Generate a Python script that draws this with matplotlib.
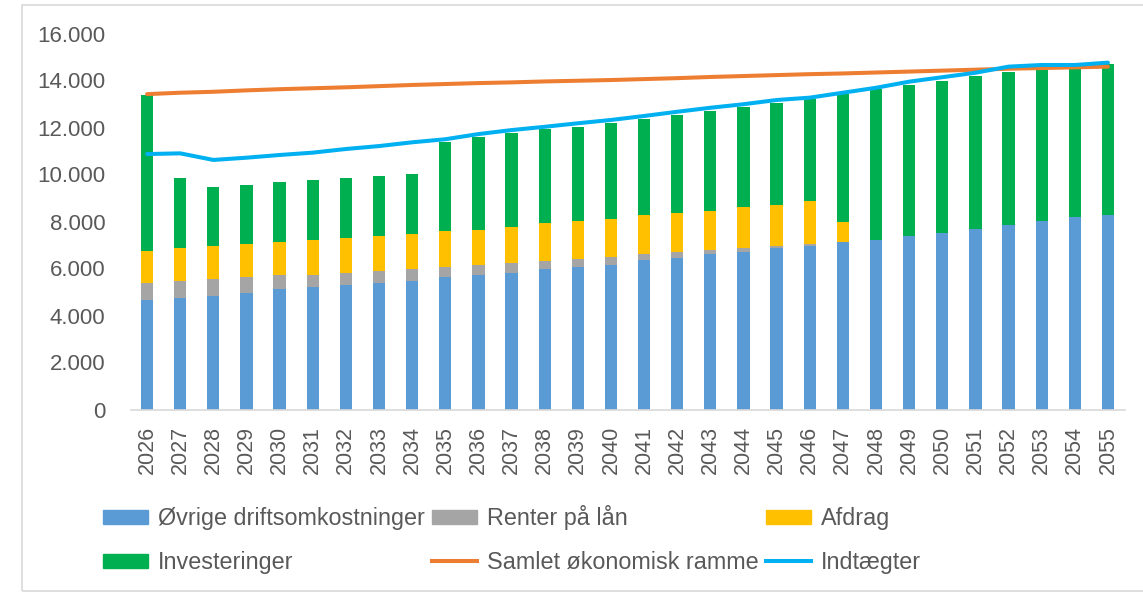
import matplotlib
matplotlib.use("Agg")
import matplotlib.pyplot as plt
import numpy as np
from matplotlib.patches import Patch, Rectangle
from matplotlib.lines import Line2D
from matplotlib.ticker import FuncFormatter

years = list(range(2026, 2056))

drift = [4660, 4760, 4840, 4950, 5110, 5200, 5290, 5380, 5470, 5630,
         5720, 5820, 5990, 6080, 6160, 6350, 6430, 6600, 6690, 6860,
         6970, 7120, 7210, 7380, 7500, 7670, 7840, 8010, 8180, 8280]
renter = [710, 700, 700, 680, 600, 510, 520, 510, 510, 430,
          430, 410, 340, 340, 340, 255, 255, 170, 170, 100,
          70, 0, 0, 0, 0, 0, 0, 0, 0, 0]
afdrag = [1390, 1400, 1420, 1420, 1420, 1500, 1490, 1500, 1500, 1515,
          1500, 1520, 1590, 1590, 1590, 1670, 1670, 1670, 1770, 1745,
          1840, 880, 0, 0, 0, 0, 0, 0, 0, 0]
invest = [6620, 2980, 2520, 2520, 2540, 2540, 2540, 2530, 2540, 3790,
          3930, 4000, 4000, 4030, 4085, 4070, 4170, 4255, 4255, 4330,
          4315, 5430, 6410, 6430, 6490, 6520, 6540, 6470, 6340, 6430]
ramme = [13420, 13480, 13520, 13580, 13630, 13670, 13710, 13760, 13810, 13850,
         13890, 13920, 13960, 13990, 14020, 14060, 14100, 14150, 14190, 14230,
         14270, 14300, 14340, 14380, 14420, 14460, 14500, 14530, 14560, 14590]
indtaegter = [10870, 10900, 10620, 10715, 10830, 10930, 11085, 11210, 11370, 11500,
              11720, 11890, 12030, 12180, 12320, 12490, 12670, 12840, 12990, 13170,
              13270, 13480, 13690, 13950, 14140, 14330, 14590, 14660, 14660, 14760]

labels = ["Øvrige driftsomkostninger", "Renter på lån", "Afdrag",
          "Investeringer", "Samlet økonomisk ramme", "Indtægter"]
yticks = [0, 2000, 4000, 6000, 8000, 10000, 12000, 14000, 16000]

c_blue = "#5B9BD5"
c_gray = "#A5A5A5"
c_yel = "#FFC000"
c_green = "#00B050"
c_orange = "#ED7D31"
c_lblue = "#00B0F0"
txt = "#595959"

W, H = 1143, 597
fig = plt.figure(figsize=(W / 100, H / 100), dpi=100)
fig.patch.set_facecolor("white")

left, right = 130.5 / W, 1124.5 / W
bottom, top = 1 - 409.5 / H, 1 - 33.5 / H
ax = fig.add_axes([left, bottom, right - left, top - bottom])

x = np.arange(len(years))
d = np.array(drift, float)
r = np.array(renter, float)
a = np.array(afdrag, float)
g = np.array(invest, float)
bw = 0.37
ax.bar(x, d, bw, color=c_blue, zorder=2)
ax.bar(x, r, bw, bottom=d, color=c_gray, zorder=2)
ax.bar(x, a, bw, bottom=d + r, color=c_yel, zorder=2)
ax.bar(x, g, bw, bottom=d + r + a, color=c_green, zorder=2)
ax.plot(x, ramme, color=c_orange, lw=2.9, zorder=3, solid_capstyle="round")
ax.plot(x, indtaegter, color=c_lblue, lw=2.9, zorder=4, solid_capstyle="round")

ax.set_xlim(-0.5, len(years) - 0.5)
ax.set_ylim(0, 16000)
ax.set_yticks(yticks)
ax.yaxis.set_major_formatter(FuncFormatter(lambda v, p: f"{int(v):,}".replace(",", ".")))
ax.set_xticks(x)
ax.set_xticklabels([str(y) for y in years], rotation=90)
for sp in ["top", "right", "left"]:
    ax.spines[sp].set_visible(False)
ax.spines["bottom"].set_color("#D9D9D9")
ax.spines["bottom"].set_linewidth(1.2)
ax.tick_params(axis="both", length=0, colors=txt)
ax.tick_params(axis="y", pad=18, labelsize=16)
ax.tick_params(axis="x", pad=12, labelsize=15.5)
for t in ax.get_xticklabels() + ax.get_yticklabels():
    t.set_fontfamily(["Liberation Sans", "DejaVu Sans"])
    t.set_color(txt)

# outer chart border
fig.patches.append(Rectangle((22 / W, 6 / H), 1.2, 1 - 11 / H, transform=fig.transFigure,
                             fill=False, edgecolor="#D9D9D9", lw=1.2))

handles = [Patch(color=c_blue), Patch(color=c_gray), Patch(color=c_yel),
           Patch(color=c_green),
           Line2D([], [], color=c_orange, lw=2.9),
           Line2D([], [], color=c_lblue, lw=2.9)]
order = [0, 3, 1, 4, 2, 5]
leg = fig.legend([handles[i] for i in order], [labels[i] for i in order],
                 ncol=3, loc="upper left", bbox_to_anchor=(103 / W, 1 - 505 / H),
                 frameon=False, borderpad=0, borderaxespad=0,
                 handlelength=1.93, handleheight=0.55, handletextpad=0.43,
                 columnspacing=0.3, labelspacing=0.9,
                 prop={"family": ["Liberation Sans", "DejaVu Sans"], "size": 16.8})
for t in leg.get_texts():
    t.set_color(txt)

fig.savefig("out.png", dpi=100, facecolor="white")
